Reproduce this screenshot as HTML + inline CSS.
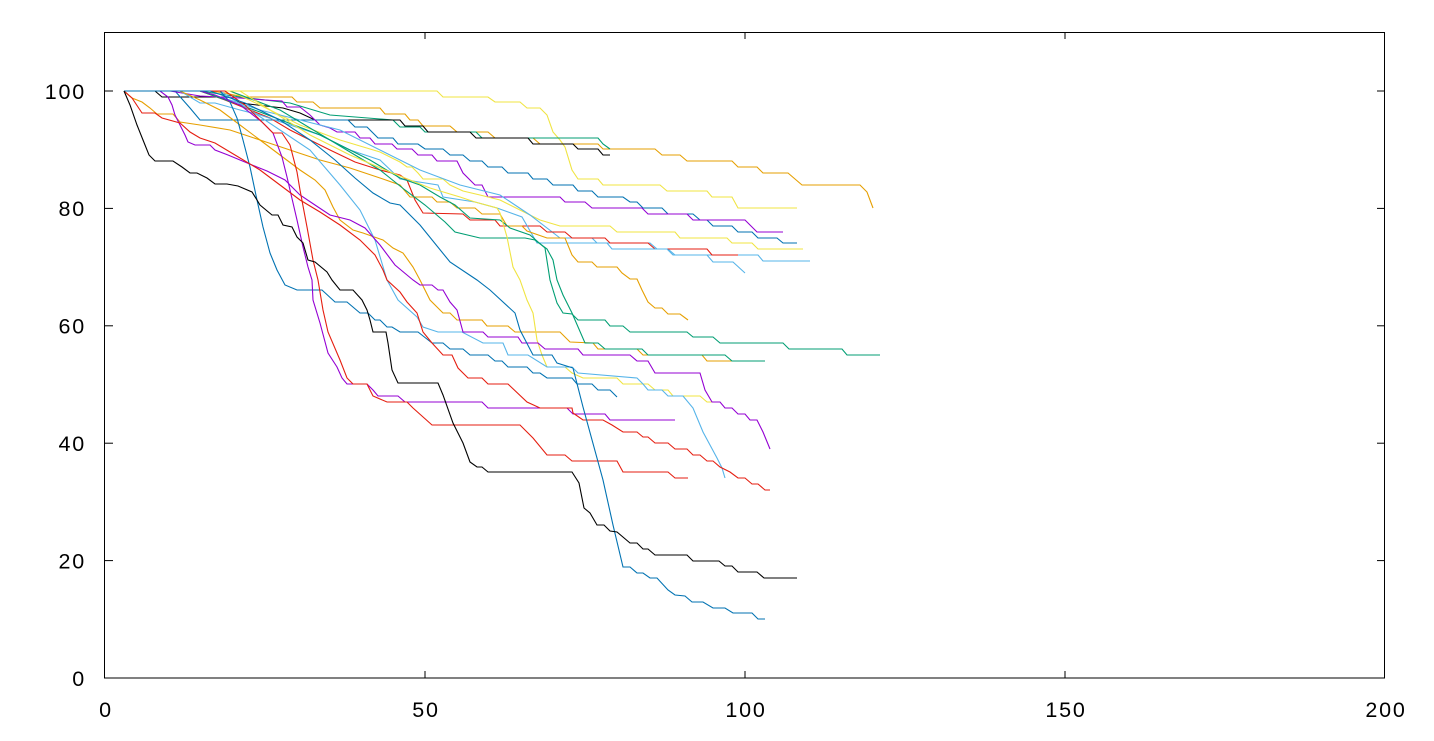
<!DOCTYPE html>
<html><head><meta charset="utf-8"><style>
html,body{margin:0;padding:0;background:#fff;}
svg{display:block;}
text{font-family:"Liberation Sans",Arial,sans-serif;font-size:21.5px;fill:#000;letter-spacing:1.8px;}
polyline{fill:none;stroke-width:1.1;stroke-linejoin:miter;}
</style></head><body>
<svg width="1434" height="741" viewBox="0 0 1434 741" xmlns="http://www.w3.org/2000/svg">
<rect x="0" y="0" width="1434" height="741" fill="#fff"/>
<g>
<polyline stroke="#f0e442" points="124,91 437,91 443,97 488,97 495,102 520,102 527,108 540,108 547,115 553,132 560,140 565,147 572,170 578,179 598,179 603,185 660,185 667,191 707,191 712,197 732,197 738,208 797,208"/>
<polyline stroke="#e69f00" points="124,91 210,91 225,93 243,97 292,97 297,102 313,102 320,108 380,108 385,114 405,114 410,120 418,120 423,126 450,126 457,132 488,132 495,138 533,138 540,144 598,144 603,149 655,149 662,155 680,155 687,161 732,161 738,167 757,167 763,173 788,173 802,185 860,185 867,192 873,208"/>
<polyline stroke="#009e73" points="124,91 200,91 240,97 290,103 330,115 393,120 400,127 420,127 425,132 476,132 482,138 598,138 603,144 610,149"/>
<polyline stroke="#000000" points="124,91 155,91 162,97 230,97 240,103 283,108 300,113 315,120 400,120 405,126 423,126 428,132 470,132 476,138 528,138 533,144 573,144 578,149 598,149 603,155 610,155"/>
<polyline stroke="#0072b2" points="124,91 175,91 190,108 200,120 348,120 355,127 367,127 378,138 393,138 398,144 418,144 425,149 443,149 450,155 463,155 470,161 482,161 488,167 502,167 508,173 528,173 533,179 547,179 553,185 573,185 578,191 592,191 598,197 623,197 630,202 637,202 643,208 662,208 668,214 693,214 700,220 707,220 713,226 732,226 738,232 752,232 758,238 777,238 783,243 797,243"/>
<polyline stroke="#9400d3" points="124,91 170,91 200,96 240,98 265,100 282,101 287,107 300,107 310,115 320,125 330,128 337,132 355,132 360,138 370,138 375,144 392,144 397,149 412,149 418,155 432,155 437,161 457,161 463,173 475,185 482,185 488,197 560,197 565,202 585,202 592,208 642,208 648,214 687,214 693,220 745,220 757,232 783,232"/>
<polyline stroke="#f0e442" points="124,91 230,91 260,105 300,125 340,140 380,152 400,162 407,167 412,167 418,173 423,179 443,179 450,185 463,191 480,195 500,200 520,210 540,220 560,226 610,226 617,232 675,232 680,238 727,238 732,243 752,243 758,249 803,249"/>
<polyline stroke="#56b4e9" points="124,91 200,91 230,100 260,110 300,120 340,130 380,150 420,170 460,185 500,195 530,215 560,238 592,238 597,243 650,243 657,249 668,249 675,255 758,255 763,261 810,261"/>
<polyline stroke="#e51e10" points="124,91 200,91 225,100 250,110 270,118 290,130 310,140 330,150 355,162 380,170 400,175 407,180 415,200 423,213 463,214 470,220 495,220 500,226 540,226 547,232 565,232 572,238 605,238 610,243 648,243 655,249 707,249 712,255 738,255"/>
<polyline stroke="#56b4e9" points="124,91 180,91 200,103 215,103 240,110 260,115 290,125 320,135 350,150 380,160 400,179 438,185 443,197 475,202 497,208 522,217 537,243 607,243 612,249 667,249 673,255 707,255 713,262 733,262 745,273"/>
<polyline stroke="#e69f00" points="124,91 132,98 142,102 150,108 157,114 173,114 180,122 200,125 230,130 260,140 290,150 320,160 350,168 380,178 400,185 410,197 432,197 437,202 450,202 457,208 475,208 482,214 500,214 507,226 522,226 527,231 547,238 565,238 572,255 578,262 592,262 597,267 617,267 622,273 630,279 637,279 642,290 648,302 655,308 662,308 668,314 680,314 688,320"/>
<polyline stroke="#009e73" points="124,91 200,91 260,112 320,135 370,160 400,178 420,185 440,197 455,205 470,218 500,220 510,228 530,235 545,248 550,280 557,303 563,313 572,314 578,320 605,320 610,326 623,326 630,332 687,332 693,337 713,337 720,343 783,343 789,349 842,349 847,355 880,355"/>
<polyline stroke="#e69f00" points="124,91 180,91 200,100 220,110 240,125 260,140 280,155 300,170 315,180 325,190 333,207 340,220 353,230 363,233 383,240 393,248 403,253 413,267 420,280 430,300 443,313 450,313 457,320 482,320 487,326 508,326 515,332 560,332 570,342 593,343 598,349 637,349 643,355 702,355 707,361 732,361"/>
<polyline stroke="#009e73" points="124,91 230,91 280,110 330,140 380,170 405,190 425,205 445,222 455,232 480,238 525,238 535,240 547,249 553,260 557,280 563,295 572,313 585,343 598,343 605,349 642,349 648,355 725,355 732,361 765,361"/>
<polyline stroke="#f0e442" points="124,91 240,91 270,110 310,135 350,155 390,172 430,188 460,197 475,202 497,208 500,213 507,237 513,267 520,280 527,300 533,313 537,340 542,355 547,367 565,367 572,373 583,378 617,378 623,384 648,384 655,390 668,390 673,396 700,396 707,402 712,402"/>
<polyline stroke="#56b4e9" points="124,91 220,91 250,110 280,130 310,150 340,185 360,210 375,240 387,280 398,300 417,317 423,327 438,332 462,332 483,343 503,343 508,355 528,355 547,367 572,367 578,373 637,378 643,384 648,390 662,390 668,396 683,396 693,408 703,432 717,458 722,468 725,478"/>
<polyline stroke="#9400d3" points="124,91 160,91 168,97 172,105 175,115 180,125 185,135 188,142 195,145 210,145 215,150 228,155 240,160 257,167 267,171 285,180 300,195 315,205 330,215 350,220 365,228 380,245 395,265 413,280 420,285 432,285 438,290 443,290 450,302 457,310 463,332 483,332 488,337 518,337 522,343 538,343 545,349 578,349 583,355 630,355 637,361 648,361 655,373 700,373 705,390 712,402 720,402 725,408 732,408 738,414 745,414 750,420 757,420 763,432 770,449"/>
<polyline stroke="#0072b2" points="124,91 220,91 230,102 237,118 243,140 250,167 257,200 263,227 270,253 277,270 285,285 297,290 322,290 335,302 347,302 360,313 368,313 375,320 380,320 387,327 392,327 400,332 418,332 432,343 443,343 450,349 463,349 470,355 488,355 495,361 502,361 508,367 527,367 533,373 540,373 547,378 572,378 577,384 592,384 598,390 610,390 617,397"/>
<polyline stroke="#9400d3" points="124,91 200,91 215,95 240,105 262,122 273,133 282,157 287,177 297,220 303,247 308,267 312,280 313,300 320,323 328,353 337,367 342,378 347,384 367,384 373,390 378,396 398,396 405,402 482,402 488,408 567,408 573,414 605,414 610,420 675,420"/>
<polyline stroke="#e51e10" points="124,91 225,91 245,105 265,125 273,133 282,133 290,145 297,172 300,190 307,227 313,260 318,280 323,310 328,332 340,360 347,378 353,384 367,384 373,396 387,402 407,402 413,408 432,425 520,425 533,438 547,455 565,455 572,461 617,461 623,472 668,472 675,478 688,478"/>
<polyline stroke="#e51e10" points="124,91 132,98 142,113 155,113 162,118 180,123 190,132 200,138 215,143 235,155 260,170 280,185 300,200 320,212 340,225 360,240 375,255 383,270 387,280 400,292 407,302 417,313 423,332 432,343 443,355 452,355 458,368 468,378 482,378 488,384 508,384 527,402 540,408 572,408 573,413 583,420 603,420 612,425 623,432 637,432 643,437 648,437 655,443 668,443 675,449 687,449 693,455 700,455 707,461 713,461 720,467 730,472 738,478 745,478 752,484 758,484 765,490 770,490"/>
<polyline stroke="#0072b2" points="124,91 210,91 245,103 280,120 310,140 335,160 355,178 373,193 390,203 400,205 420,225 450,262 477,280 490,290 515,313 520,330 533,355 552,355 557,363 573,368 583,407 603,480 613,525 623,567 630,567 637,573 643,573 650,578 657,578 668,590 675,595 685,596 692,602 703,602 713,608 725,608 733,613 752,613 758,619 765,619"/>
<polyline stroke="#000000" points="124,91 130,105 137,125 143,140 149,155 155,161 173,161 182,167 190,173 197,173 207,178 215,184 227,184 238,186 252,192 257,200 260,205 272,215 278,215 283,225 292,227 297,237 303,243 308,260 315,262 327,272 332,280 340,290 353,290 362,300 367,310 370,320 373,332 386,332 388,343 392,370 398,383 438,383 443,395 453,423 463,443 470,462 477,467 482,467 488,472 572,472 579,483 584,508 590,513 597,525 604,525 610,531 617,532 630,543 637,543 643,549 648,549 655,555 687,555 693,561 719,561 725,566 732,566 738,572 757,572 764,578 797,578"/>
</g>
<rect x="104.5" y="32.5" width="1280" height="645.5" fill="none" stroke="#000" stroke-width="1"/>
<g stroke="#000" stroke-width="1">
<line x1="425" y1="678" x2="425" y2="671"/><line x1="425" y1="32" x2="425" y2="39"/>
<line x1="745" y1="678" x2="745" y2="671"/><line x1="745" y1="32" x2="745" y2="39"/>
<line x1="1065" y1="678" x2="1065" y2="671"/><line x1="1065" y1="32" x2="1065" y2="39"/>
<line x1="105" y1="560.6" x2="113" y2="560.6"/><line x1="1385" y1="560.6" x2="1377" y2="560.6"/>
<line x1="105" y1="443.2" x2="113" y2="443.2"/><line x1="1385" y1="443.2" x2="1377" y2="443.2"/>
<line x1="105" y1="325.8" x2="113" y2="325.8"/><line x1="1385" y1="325.8" x2="1377" y2="325.8"/>
<line x1="105" y1="208.4" x2="113" y2="208.4"/><line x1="1385" y1="208.4" x2="1377" y2="208.4"/>
<line x1="105" y1="91" x2="113" y2="91"/><line x1="1385" y1="91" x2="1377" y2="91"/>
</g>
<g text-anchor="end">
<text x="86" y="686">0</text>
<text x="86" y="568.5">20</text>
<text x="86" y="451">40</text>
<text x="86" y="333.5">60</text>
<text x="86" y="216">80</text>
<text x="86" y="99">100</text>
</g>
<g text-anchor="middle">
<text x="106" y="717">0</text>
<text x="426" y="717">50</text>
<text x="746" y="717">100</text>
<text x="1066" y="717">150</text>
<text x="1386" y="717">200</text>
</g>
</svg>
</body></html>
